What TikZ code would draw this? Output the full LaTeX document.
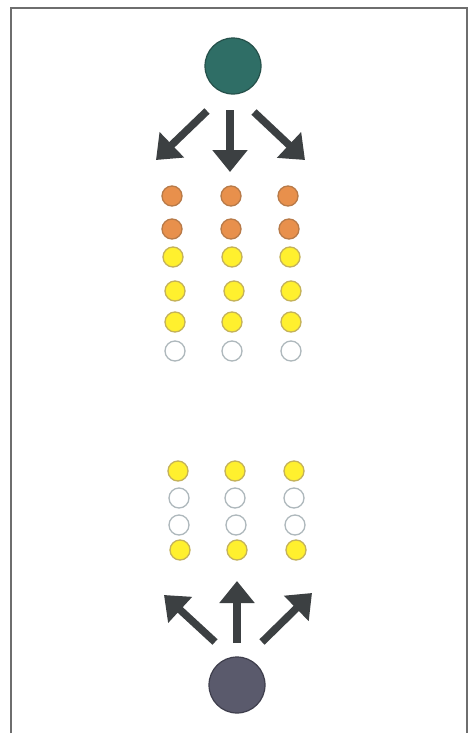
\documentclass[tikz,border=0pt]{standalone}
\usetikzlibrary{arrows.meta}
\definecolor{teal1}{HTML}{2F6E66}
\definecolor{tealedge}{HTML}{25504A}
\definecolor{slate}{HTML}{5A5A6C}
\definecolor{slateedge}{HTML}{3E3E4C}
\definecolor{orng}{HTML}{E8904C}
\definecolor{orngedge}{HTML}{B87A48}
\definecolor{yel}{HTML}{FFF02E}
\definecolor{yeledge}{HTML}{C4B25A}
\definecolor{emptyedge}{HTML}{AEB8BC}
\definecolor{arr}{HTML}{3C4042}
\definecolor{frame}{HTML}{6E6E6E}
\tikzset{
  big/.style={circle, minimum size=56pt, inner sep=0pt, line width=1.2pt},
  dot/.style={circle, minimum size=20pt, inner sep=0pt, line width=1.3pt},
  od/.style={dot, fill=orng, draw=orngedge},
  yd/.style={dot, fill=yel, draw=yeledge},
  ed/.style={dot, fill=white, draw=emptyedge},
  fat/.style={draw=arr, line width=7.5pt, -{Triangle[width=34pt,length=22pt]}}
}
\begin{document}
\begin{tikzpicture}[x=1pt,y=-1pt]
\useasboundingbox (0,0) rectangle (470,734);
\fill[white] (0,0) rectangle (470,734);
\draw[frame, line width=2pt] (11,733) -- (11,8) -- (467,8) -- (467,733);
% sources
\node[big, fill=teal1, draw=tealedge] (top) at (233,66) {};
\node[big, fill=slate, draw=slateedge] (bot) at (237,685) {};
% top arrows
\coordinate (t1s) at (207,111); \coordinate (t1e) at (156,160);
\coordinate (t2s) at (230,110); \coordinate (t2e) at (230,172);
\coordinate (t3s) at (254,112); \coordinate (t3e) at (305,160);
\draw[fat] (t1s) -- (t1e);
\draw[fat] (t2s) -- (t2e);
\draw[fat] (t3s) -- (t3e);
% bottom arrows
\coordinate (b1s) at (215,642); \coordinate (b1e) at (164,595);
\coordinate (b2s) at (237,643); \coordinate (b2e) at (237,581);
\coordinate (b3s) at (262,642); \coordinate (b3e) at (312,593);
\draw[fat] (b1s) -- (b1e);
\draw[fat] (b2s) -- (b2e);
\draw[fat] (b3s) -- (b3e);
% upper dot columns
\node[od] (a11) at (172,196) {}; \node[od] (a12) at (231,196) {}; \node[od] (a13) at (288,196) {};
\node[od] (a21) at (172,229) {}; \node[od] (a22) at (231,229) {}; \node[od] (a23) at (289,229) {};
\node[yd] (a31) at (173,257) {}; \node[yd] (a32) at (232,257) {}; \node[yd] (a33) at (290,257) {};
\node[yd] (a41) at (175,291) {}; \node[yd] (a42) at (234,291) {}; \node[yd] (a43) at (291,291) {};
\node[yd] (a51) at (175,322) {}; \node[yd] (a52) at (232,322) {}; \node[yd] (a53) at (291,322) {};
\node[ed] (a61) at (175,351) {}; \node[ed] (a62) at (232,351) {}; \node[ed] (a63) at (291,351) {};
% lower dot columns
\node[yd] (c11) at (178,471) {}; \node[yd] (c12) at (235,471) {}; \node[yd] (c13) at (294,471) {};
\node[ed] (c21) at (179,498) {}; \node[ed] (c22) at (235,498) {}; \node[ed] (c23) at (294,498) {};
\node[ed] (c31) at (179,525) {}; \node[ed] (c32) at (236,525) {}; \node[ed] (c33) at (295,525) {};
\node[yd] (c41) at (180,550) {}; \node[yd] (c42) at (237,550) {}; \node[yd] (c43) at (296,550) {};
\end{tikzpicture}
\end{document}
